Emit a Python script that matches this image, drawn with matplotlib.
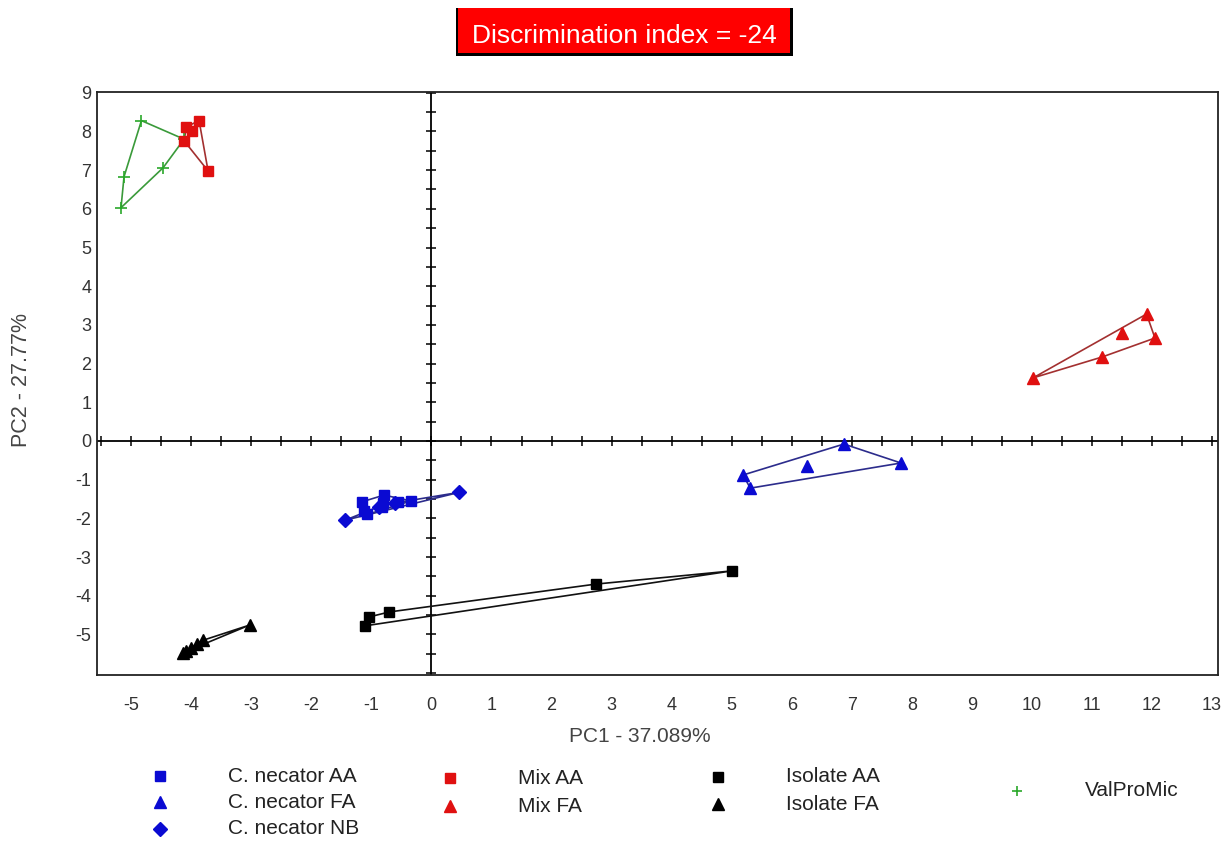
import numpy as np
import matplotlib
matplotlib.use("Agg")
import matplotlib.pyplot as plt
from matplotlib.patches import Rectangle

plt.rcParams['font.family'] = ['Liberation Sans', 'DejaVu Sans']

# ---------------- data ----------------
cn_aa_x = [-1.15, -1.12, -1.07, -0.79, -0.80, -0.82, -0.56, -0.34]
cn_aa_y = [-1.57, -1.80, -1.90, -1.40, -1.60, -1.72, -1.57, -1.55]
cn_fa_x = [6.87, 7.82, 6.26, 5.19, 5.31]
cn_fa_y = [-0.08, -0.57, -0.65, -0.88, -1.22]
cn_nb_x = [-1.44, -0.88, -0.60, 0.46]
cn_nb_y = [-2.05, -1.70, -1.60, -1.33]
mix_aa_x = [-4.08, -3.98, -3.87, -3.72, -4.12]
mix_aa_y = [8.12, 8.02, 8.28, 6.98, 7.76]
mix_fa_x = [11.91, 11.50, 12.05, 11.17, 10.02]
mix_fa_y = [3.28, 2.79, 2.66, 2.17, 1.63]
iso_aa_x = [5.00, 2.74, -0.70, -1.04, -1.11]
iso_aa_y = [-3.36, -3.70, -4.42, -4.55, -4.78]
iso_fa_x = [-3.03, -3.80, -3.90, -4.00, -4.08, -4.13]
iso_fa_y = [-4.76, -5.15, -5.25, -5.35, -5.42, -5.47]
vpm_x = [-4.83, -5.12, -5.17, -4.47, -4.12]
vpm_y = [8.28, 6.83, 6.03, 7.06, 7.80]

x_ticks = list(range(-5, 14))
y_ticks = list(range(-5, 10))
x_label = "PC1 - 37.089%"
y_label = "PC2 - 27.77%"
title = "Discrimination index = -24"

BLUE = '#0a0ad2'
RED = '#e01010'
BLACK = '#000000'
GREEN = '#2aa82a'

groups = [
    ("C. necator AA", cn_aa_x, cn_aa_y, 's', BLUE, '#2c2c8c', 7),
    ("C. necator FA", cn_fa_x, cn_fa_y, '^', BLUE, '#2c2c8c', 8),
    ("C. necator NB", cn_nb_x, cn_nb_y, 'D', BLUE, '#2c2c8c', 7.5),
    ("Isolate AA", iso_aa_x, iso_aa_y, 's', BLACK, '#111111', 7),
    ("Isolate FA", iso_fa_x, iso_fa_y, '^', BLACK, '#111111', 8),
    ("ValProMic", vpm_x, vpm_y, '+', GREEN, '#3a9a3a', 9),
    ("Mix AA", mix_aa_x, mix_aa_y, 's', RED, '#a33030', 7),
    ("Mix FA", mix_fa_x, mix_fa_y, '^', RED, '#a33030', 8),
]


def hull(px, py):
    pts = sorted(set(zip(px, py)))
    if len(pts) < 3:
        return pts

    def cross(o, a, b):
        return (a[0] - o[0]) * (b[1] - o[1]) - (a[1] - o[1]) * (b[0] - o[0])
    lower, upper = [], []
    for p in pts:
        while len(lower) >= 2 and cross(lower[-2], lower[-1], p) <= 0:
            lower.pop()
        lower.append(p)
    for p in reversed(pts):
        while len(upper) >= 2 and cross(upper[-2], upper[-1], p) <= 0:
            upper.pop()
        upper.append(p)
    return lower[:-1] + upper[:-1]


W, H = 1226, 842
fig = plt.figure(figsize=(W / 100, H / 100), dpi=100)
fig.patch.set_facecolor('white')

ax = fig.add_axes([97 / W, 1 - 675 / H, (1218 - 97) / W, (675 - 92) / H])
ax.set_xlim(-5.57, 13.1)
ax.set_ylim(-6.05, 9.02)

# cross axes
ax.axhline(0, color='black', lw=1.3, zorder=1)
ax.axvline(0, color='black', lw=1.3, zorder=1)
half_x = np.arange(-5.5, 13.01, 0.5)
half_y = np.arange(-6.0, 9.01, 0.5)
ax.plot(half_x, np.zeros_like(half_x), ls='none', marker='|', ms=7, mew=1.1, color='black', zorder=1)
ax.plot(np.zeros_like(half_y), half_y, ls='none', marker='_', ms=7, mew=1.1, color='black', zorder=1)

for name, gx, gy, mk, col, lcol, ms in groups:
    h = hull(gx, gy)
    hx = [p[0] for p in h] + [h[0][0]]
    hy = [p[1] for p in h] + [h[0][1]]
    ax.plot(hx, hy, color=lcol, lw=1.2, zorder=2)
    if mk == '+':
        ax.plot(gx, gy, ls='none', marker=mk, ms=ms, mew=1.2, color=col, zorder=3)
    else:
        ax.plot(gx, gy, ls='none', marker=mk, ms=ms, color=col, mec=col, zorder=3)

ax.set_xticks(x_ticks)
ax.set_xticklabels([str(t) for t in x_ticks])
ax.set_yticks(y_ticks)
ax.set_yticklabels([str(t) for t in y_ticks])
ax.tick_params(axis='both', length=0, labelsize=13, colors='#333333')
ax.tick_params(axis='x', pad=16)
ax.tick_params(axis='y', pad=4)
for s in ax.spines.values():
    s.set_linewidth(1.3)
    s.set_color('#222222')

fig.text(640 / W, 1 - 736 / H, x_label, ha='center', va='center', fontsize=15, color='#444444')
fig.text(22 / W, 1 - 380 / H, y_label, ha='center', va='center', rotation=90, fontsize=15.5, color='#444444')

# title box
fig.add_artist(Rectangle((456 / W, 1 - 56 / H), (793 - 456) / W, (56 - 8) / H,
                         transform=fig.transFigure, facecolor='black', edgecolor='none'))
fig.add_artist(Rectangle((458 / W, 1 - 53 / H), (790 - 458) / W, (53 - 8) / H,
                         transform=fig.transFigure, facecolor='#ff0000', edgecolor='none'))
fig.text(624 / W, 1 - 36 / H, title, ha='center', va='center', fontsize=19,
         color='white')

# legend (manual layout)
lax = fig.add_axes([0, 0, 1, 1], facecolor='none')
lax.set_xlim(0, W)
lax.set_ylim(H, 0)
lax.axis('off')
legend_pos = {
    "C. necator AA": (160, 776), "C. necator FA": (160, 802), "C. necator NB": (160, 829),
    "Mix AA": (450, 778), "Mix FA": (450, 806),
    "Isolate AA": (718, 777), "Isolate FA": (718, 804),
    "ValProMic": (1017, 791),
}
for name, gx, gy, mk, col, lcol, ms in groups:
    px, py = legend_pos[name]
    if mk == '+':
        lax.plot([px], [py], marker=mk, ms=7, mew=1.2, color=col, ls='none')
    else:
        lax.plot([px], [py], marker=mk, ms=ms, color=col, ls='none')
    lax.text(px + 68, py, name, ha='left', va='center', fontsize=15, color='#222222')

fig.savefig('out.png', dpi=100)
